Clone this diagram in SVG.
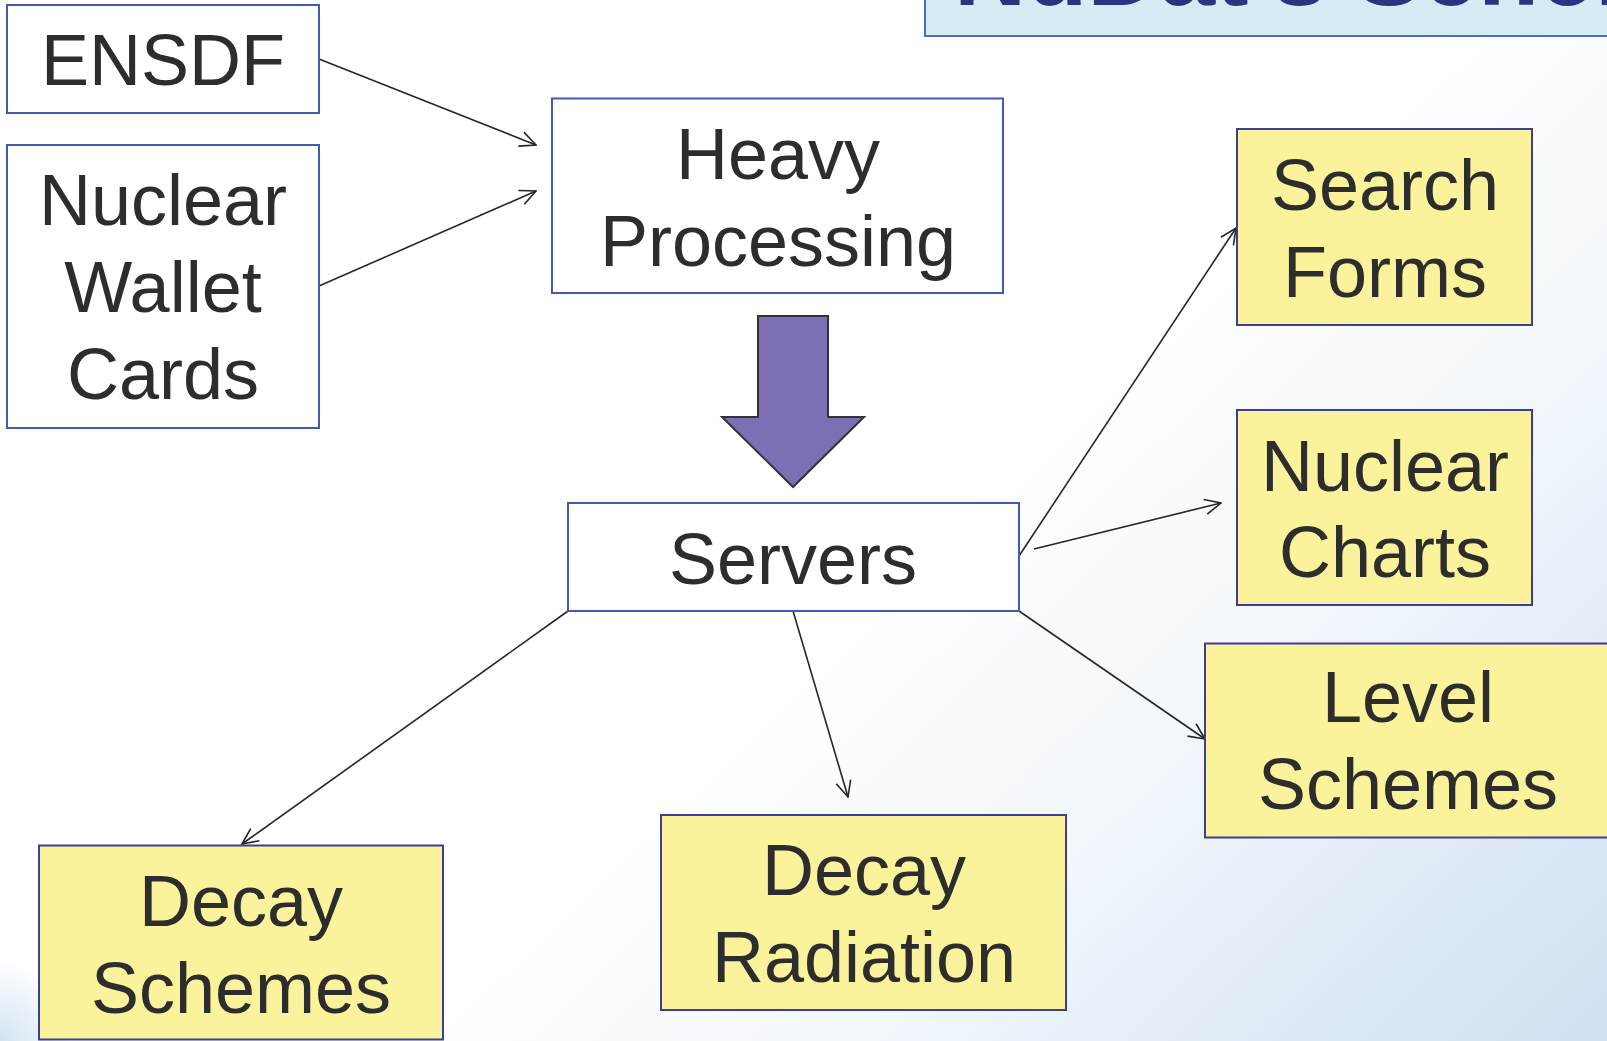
<svg xmlns="http://www.w3.org/2000/svg" width="1607" height="1041" viewBox="0 0 1607 1041">
<defs>
<linearGradient id="bg" gradientUnits="userSpaceOnUse" x1="950" y1="480" x2="1520" y2="1080">
<stop offset="0" stop-color="#ffffff"/>
<stop offset="0.4" stop-color="#f3f8fc"/>
<stop offset="1" stop-color="#d0e2f2"/>
</linearGradient>
<radialGradient id="bl" gradientUnits="userSpaceOnUse" cx="0" cy="1041" r="80">
<stop offset="0" stop-color="#d3e4f3"/>
<stop offset="1" stop-color="#d3e4f3" stop-opacity="0"/>
</radialGradient>
<marker id="arr" viewBox="0 0 20 20" refX="19" refY="10" markerWidth="20" markerHeight="20" markerUnits="userSpaceOnUse" orient="auto">
<path d="M3,2.5 L19,10 L3,17.5" fill="none" stroke="#262626" stroke-width="1.6"/>
</marker>
<style>
.t{font-family:"Liberation Sans",Arial,sans-serif;font-size:72px;fill:#2d2d2d;text-anchor:middle}
.wb{fill:#ffffff;stroke:#3f5cb0;stroke-width:2}
.yb{fill:#fbf39b;stroke:#3a3f9e;stroke-width:2}
.c{fill:none;stroke:#262626;stroke-width:1.6;marker-end:url(#arr)}
</style>
</defs>
<rect x="0" y="0" width="1607" height="1041" fill="url(#bg)"/>
<rect x="0" y="940" width="120" height="101" fill="url(#bl)"/>

<g id="title">
<rect x="925" y="-10" width="700" height="46" fill="#d4ecf4" stroke="#4b6cb7" stroke-width="2"/>
<text x="954" y="5" style="font-family:'Liberation Sans',Arial,sans-serif;font-size:100px;font-weight:bold;fill:#283580">NuDat's Schem</text>
</g>

<g id="connectors">
<line class="c" x1="319" y1="59" x2="536" y2="145"/>
<line class="c" x1="319" y1="286" x2="536" y2="191"/>
<line class="c" x1="1019" y1="556" x2="1236" y2="228"/>
<line class="c" x1="1034" y1="549" x2="1221" y2="503"/>
<line class="c" x1="1019" y1="611" x2="1205" y2="739"/>
<line class="c" x1="793" y1="611" x2="848" y2="797"/>
<line class="c" x1="568" y1="611" x2="242" y2="844"/>
</g>

<g id="bigArrow">
<polygon points="758,316 828,316 828,417 864,417 793,487 722,417 758,417" fill="#7e6fb4" stroke="#333333" stroke-width="2" stroke-linejoin="miter"/>
</g>

<g id="ensdf">
<rect class="wb" x="7" y="5" width="312" height="108"/>
<text class="t" x="163" y="85">ENSDF</text>
</g>

<g id="nwc">
<rect class="wb" x="7" y="145" width="312" height="283"/>
<text class="t" x="163" y="225">Nuclear</text>
<text class="t" x="163" y="312">Wallet</text>
<text class="t" x="163" y="399">Cards</text>
</g>

<g id="heavy">
<rect class="wb" x="552" y="98.5" width="451" height="194.5"/>
<text class="t" x="778" y="179">Heavy</text>
<text class="t" x="778" y="266">Processing</text>
</g>

<g id="servers">
<rect class="wb" x="568" y="503" width="451" height="108"/>
<text class="t" x="793" y="584">Servers</text>
</g>

<g id="search">
<rect class="yb" x="1237" y="129" width="295" height="196"/>
<text class="t" x="1385" y="210">Search</text>
<text class="t" x="1385" y="297">Forms</text>
</g>

<g id="charts">
<rect class="yb" x="1237" y="410" width="295" height="195"/>
<text class="t" x="1385" y="491">Nuclear</text>
<text class="t" x="1385" y="577">Charts</text>
</g>

<g id="level">
<rect class="yb" x="1205" y="643.5" width="420" height="194"/>
<text class="t" x="1408" y="722">Level</text>
<text class="t" x="1408" y="809">Schemes</text>
</g>

<g id="radiation">
<rect class="yb" x="661" y="815" width="405" height="195"/>
<text class="t" x="864" y="895">Decay</text>
<text class="t" x="864" y="982">Radiation</text>
</g>

<g id="decaySchemes">
<rect class="yb" x="39" y="845.5" width="404" height="194"/>
<text class="t" x="241" y="926">Decay</text>
<text class="t" x="241" y="1013">Schemes</text>
</g>
</svg>
